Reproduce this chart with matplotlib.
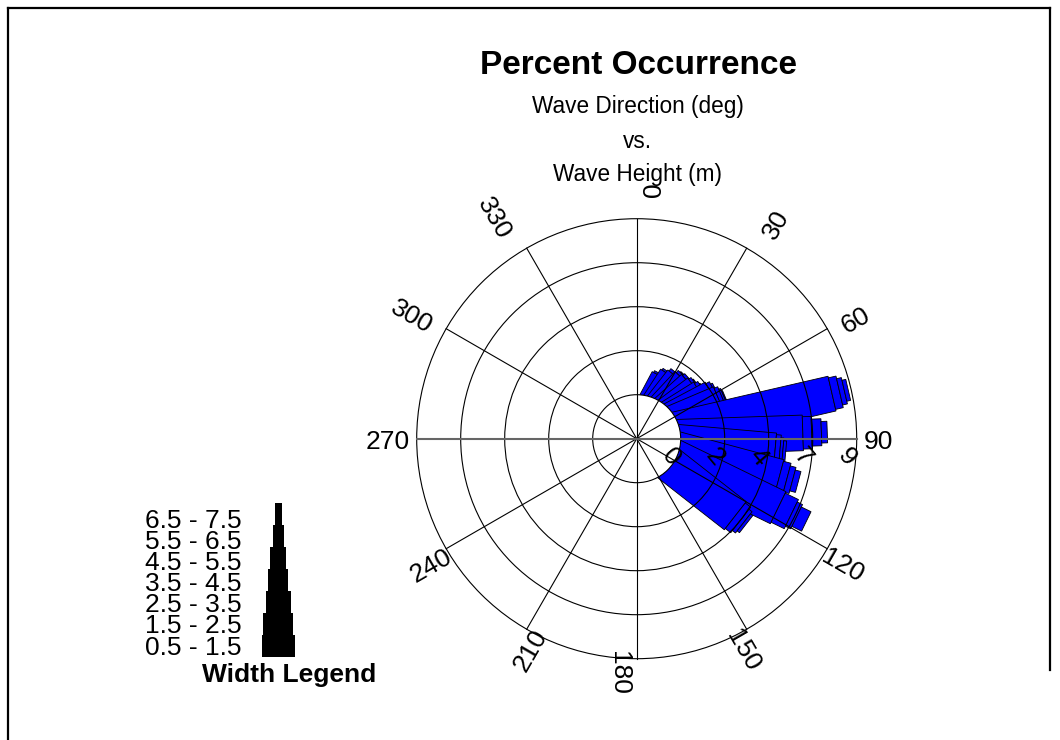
import numpy as np
import matplotlib
matplotlib.use('Agg')
import matplotlib.pyplot as plt
from matplotlib.patches import Polygon, Circle, Rectangle
from matplotlib.lines import Line2D

plt.rcParams['font.family'] = ['Liberation Sans', 'DejaVu Sans']

## data: percent occurrence by wave direction (deg) and wave height class (m)
directions = [28, 33, 38, 43, 48, 53, 58, 62, 67, 77, 88, 95, 105, 116, 128]
pct_05_15 = [1.15, 1.4, 1.5, 1.6, 1.65, 1.7, 1.75, 2.2, 2.4, 8.0, 6.25, 4.85, 5.3, 5.8, 4.15]
pct_15_25 = [0.1, 0.1, 0.15, 0.15, 0.15, 0.15, 0.2, 0.2, 0.2, 0.4, 0.45, 0.25, 0.4, 0.75, 0.35]
pct_25_35 = [0.0, 0.0, 0.0, 0.05, 0.0, 0.05, 0.05, 0.1, 0.1, 0.25, 0.5, 0.15, 0.3, 0.3, 0.2]
pct_35_45 = [0.0, 0.0, 0.0, 0.0, 0.0, 0.0, 0.0, 0.0, 0.05, 0.2, 0.3, 0.15, 0.3, 0.55, 0.15]
pct_45_55 = [0.0] * 15
pct_55_65 = [0.0] * 15
pct_65_75 = [0.0] * 15
class_labels = ['0.5 - 1.5', '1.5 - 2.5', '2.5 - 3.5', '3.5 - 4.5',
                '4.5 - 5.5', '5.5 - 6.5', '6.5 - 7.5']
angle_ticks = [0, 30, 60, 90, 120, 150, 180, 210, 240, 270, 300, 330]
ring_values = [0, 2.25, 4.5, 6.75, 9]
ring_labels = ['0', '2', '4', '7', '9']

pct = [pct_05_15, pct_15_25, pct_25_35, pct_35_45, pct_45_55, pct_55_65, pct_65_75]

## drawing scale: hole of 1 unit, outer ring at 5 units (44 px per unit)
px = 1 / 44.0
hole = 1.0
rmax = 5.0
vmax = ring_values[-1]
class_width = [33 * px, 30 * px, 25 * px, 20 * px, 16 * px, 11 * px, 7 * px]
bar_scale = 1.08
blue = '#0000ff'


def rad(v):
    return hole + v * (rmax - hole) / vmax


fig = plt.figure(figsize=(10.6, 7.4), dpi=100)
cx, cy = 636.7, 740 - 438.7
half = 5.5 * 44
ax = fig.add_axes([(cx - half) / 1060, (cy - half) / 740, 2 * half / 1060, 2 * half / 740])
ax.set_xlim(-5.5, 5.5)
ax.set_ylim(-5.5, 5.5)
ax.axis('off')

# bars: stacked segments, narrower for higher wave classes, drawn one direction after another
z = 2.0
for i, d in enumerate(directions):
    t = np.radians(d)
    u = np.array([np.sin(t), np.cos(t)])
    p = np.array([np.cos(t), -np.sin(t)])
    total = 0.0
    for k in range(7):
        v = pct[k][i]
        if v <= 0:
            continue
        r0 = 0.0 if total == 0 else rad(total)
        total += v
        r1 = rad(total)
        w = bar_scale * class_width[k] / 2
        pts = [r0 * u - w * p, r1 * u - w * p, r1 * u + w * p, r0 * u + w * p]
        ax.add_patch(Polygon(pts, closed=True, facecolor=blue, edgecolor='black', lw=0.6, zorder=z))
        z += 0.001

ax.add_patch(Circle((0, 0), hole, facecolor='white', edgecolor='none', zorder=4))

# grid
for rv in ring_values:
    ax.add_patch(Circle((0, 0), rad(rv), facecolor='none', edgecolor='black', lw=0.8, zorder=5))
for a in angle_ticks:
    t = np.radians(a)
    if a in (90, 270):
        continue
    ax.plot([0, rmax * np.sin(t)], [0, rmax * np.cos(t)], color='black', lw=0.8, zorder=5)
ax.plot([-rmax, rmax], [0, 0], color='#666666', lw=1.5, zorder=5)

# direction labels
for a in angle_ticks:
    t = np.radians(a)
    rot = (90 - a) % 360
    if rot > 180:
        rot -= 360
    if rot > 90:
        rot -= 180
    if rot < -90:
        rot += 180
    ha = 'left' if a <= 180 else 'right'
    r_anchor = rmax + (7 + 15 * np.cos(t)) * px
    shift = (3.5 + 14 * np.cos(t) ** 2) * px
    rr = np.radians(rot)
    x = r_anchor * np.sin(t) + shift * np.sin(rr)
    y = r_anchor * np.cos(t) - shift * np.cos(rr)
    ax.text(x, y, str(a), rotation=rot, rotation_mode='anchor', ha=ha, va='center',
            fontsize=19, zorder=6, clip_on=False)

# height ring labels
for rv, lab in zip(ring_values, ring_labels):
    ax.text(rad(rv) - 10 * px, -18.5 * px, lab, rotation=-50, ha='center', va='center',
            fontsize=19, zorder=7)

# width legend
leg_x = (278.3 - 636.7) * px
leg_y0 = (438.7 - 657) * px
for k in range(7):
    ax.add_patch(Rectangle((leg_x - class_width[k] / 2, leg_y0 + k * 22 * px), class_width[k], 22 * px,
                           facecolor='black', edgecolor='none', clip_on=False))
    ax.text((241.7 - 636.7) * px, (438.7 - 647.6 + 21.17 * k) * px, class_labels[k],
            ha='right', va='center', fontsize=19, clip_on=False)
ax.text((201.7 - 636.7) * px, (438.7 - 675) * px, 'Width Legend', ha='left', va='center',
        fontsize=19, fontweight='bold', clip_on=False)

# titles
fig.text(638 / 1060, 1 - 66 / 740, 'Percent Occurrence', ha='center', va='center',
         fontsize=24, fontweight='bold')
fig.text(637.5 / 1060, 1 - 106 / 740, 'Wave Direction (deg)', ha='center', va='center', fontsize=16.3)
fig.text(637.5 / 1060, 1 - 141 / 740, 'vs.', ha='center', va='center', fontsize=16.3)
fig.text(637.5 / 1060, 1 - 175 / 740, 'Wave Height (m)', ha='center', va='center', fontsize=16.3)

# frame
fx0, fx1, fy = 7.5 / 1060, 1050 / 1060, 1 - 7.5 / 740
fig.add_artist(Line2D([fx0, fx0], [0, fy], transform=fig.transFigure, color='black', lw=1.6))
fig.add_artist(Line2D([fx0, fx1], [fy, fy], transform=fig.transFigure, color='black', lw=1.6))
fig.add_artist(Line2D([fx1, fx1], [fy, 1 - 670 / 740], transform=fig.transFigure, color='black', lw=1.6))

fig.savefig('out.png', dpi=100)
